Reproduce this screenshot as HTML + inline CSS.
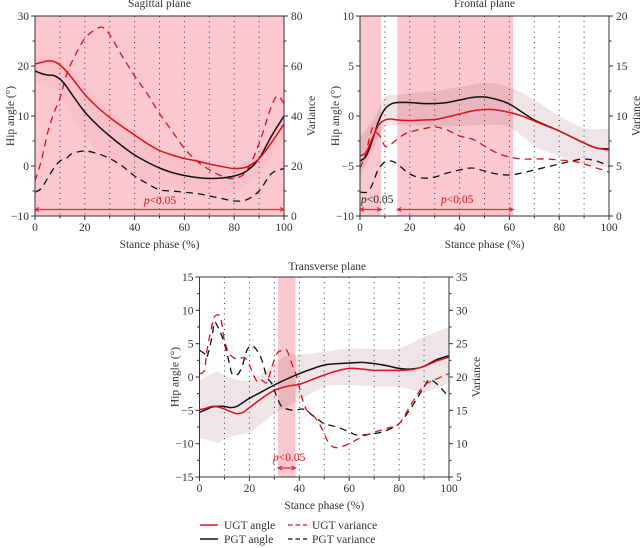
<!DOCTYPE html>
<html><head><meta charset="utf-8"><title>Hip angle and variance</title>
<style>
html,body{margin:0;padding:0;background:#fff}
svg{display:block}
text{font-family:"Liberation Serif",serif;font-size:11.5px;fill:#333}
</style></head>
<body>
<svg id="chart" width="641" height="548" viewBox="0 0 641 548" xmlns="http://www.w3.org/2000/svg">
  <g>
    <line x1="200" x2="218" y1="525" y2="525" stroke="#e0101e" stroke-width="1.4"/>
    <text x="224" y="529">UGT angle</text>
    <line x1="200" x2="218" y1="539" y2="539" stroke="#111" stroke-width="1.4"/>
    <text x="224" y="543">PGT angle</text>
    <line x1="288" x2="307" y1="525" y2="525" stroke="#e0101e" stroke-width="1.2" stroke-dasharray="4.5 3"/>
    <text x="312" y="529">UGT variance</text>
    <line x1="288" x2="307" y1="539" y2="539" stroke="#111" stroke-width="1.2" stroke-dasharray="4.5 3"/>
    <text x="312" y="543">PGT variance</text>
  </g>
</svg>
<script>
// ---- shared ----
const phaseTicks = [0,20,40,60,80,100];
const anglePhase = [0,2.5,5,7.5,10,12.5,15,20,25,30,35,40,45,50,55,60,65,70,75,80,85,90,95,100];

// ---- sagittal ----
const sagTicksLeft = [-10,0,10,20,30];
const sagTicksRight = [0,20,40,60,80];
const sagUgtAngle = [20.4,20.7,21,20.9,20.2,19,17.5,14.3,11.8,9.7,7.9,6.2,4.5,3.1,2.2,1.5,1,0.4,-0.1,-0.5,-0.2,1.5,4.7,8.4];
const sagPgtAngle = [19,18.5,18.2,18.1,17.4,16,14.2,10.8,8.2,6,4,2.2,0.8,-0.4,-1.3,-1.9,-2.3,-2.5,-2.4,-2,-1,1.5,6,10];
const sagBandPhase = [0,5,10,15,20,30,40,50,60,70,80,90,100];
const sagBandUpper = [21.5,22.2,21,19,16,11,7,3.5,1.5,0.5,0,3,11];
const sagBandLower = [16.5,16,14.5,10,6,1,-2,-3.8,-4.8,-5.3,-5,-1.5,6];
const sagUgtVarPhase = [0,2.5,5,7.5,10,12.5,15,20,25,27.5,30,35,40,45,50,55,60,65,70,75,80,85,90,95,97.5,100];
const sagUgtVar = [14,22,33,41,47,56,62,71,75,75.3,72.5,64,56,49,41,34,27,22,18.5,16,15,18,29,44,48,45];
const sagPgtVarPhase = [0,2.5,5,7.5,10,12.5,15,20,25,30,35,40,45,50,55,60,65,70,75,80,85,90,95,100];
const sagPgtVar = [9.5,11,15,19,22,23,25,26,25,23,20,16,13,10.5,10,9.5,9,8,7,6,6.5,10,17,19];
const sagSigStart = [0];
const sagSigEnd = [100];

// ---- frontal ----
const froTicksLeft = [-10,-5,0,5,10];
const froTicksRight = [0,5,10,15,20];
const froUgtAngle = [-4,-3.6,-2.2,-0.9,-0.4,-0.3,-0.4,-0.45,-0.4,-0.35,-0.1,0.2,0.5,0.65,0.6,0.35,0,-0.5,-1,-1.5,-2.1,-2.7,-3.2,-3.4];
const froPgtAngle = [-4.5,-4,-2.4,-0.5,0.7,1.2,1.35,1.35,1.25,1.25,1.35,1.6,1.85,1.9,1.65,1.2,0.4,-0.4,-0.95,-1.5,-2.1,-2.7,-3.2,-3.3];
const froBandPhase = [0,5,10,15,20,30,40,50,60,70,80,90,100];
const froBandUpper = [-2,-0.5,1.9,2.1,2.3,2.5,2.9,3.3,2.9,1.6,0,-1.2,-1.3];
const froBandLower = [-6,-3.5,-1.1,-0.9,-0.9,-1,-1,-0.9,-1.1,-3,-4,-4.8,-5.2];
const froUgtVarPhase = [0,2,4,5,6,8,10,12,15,18,20,25,30,35,40,45,50,55,60,65,70,75,80,85,90,95,100];
const froUgtVar = [4.8,6,8,8.8,8.5,8,7,7.1,7.7,8.2,8.4,8.7,8.9,8.6,8,7.7,7,6.3,5.9,5.7,5.7,5.7,5.6,5.5,5.2,4.8,4.4];
const froPgtVarPhase = [0,3,5,7,8,10,12.5,15,20,25,30,35,40,45,50,55,60,65,70,75,80,85,90,95,100];
const froPgtVar = [2.4,2.4,3.2,4.5,4.9,5.4,5.5,5.2,4.2,3.8,3.9,4.3,4.6,4.8,4.5,4.2,4.1,4.3,4.6,4.9,5.2,5.5,5.7,5.5,5];
const froSigStart = [0,15];
const froSigEnd = [8.5,61.5];

// ---- transverse ----
const traTicksLeft = [-15,-10,-5,0,5,10,15];
const traTicksRight = [5,10,15,20,25,30,35];
const traAnglePhase = [0,2.5,5,7.5,10,12.5,15,17.5,20,25,30,35,40,45,50,55,60,65,70,75,80,85,90,95,100];
const traUgtAngle = [-4.9,-4.7,-4.4,-4.5,-4.8,-5.2,-5.5,-5.3,-4.6,-3.2,-2,-1.4,-1.1,-0.4,0.3,0.9,1.3,1.2,1,1,1,1.1,1.6,2.4,3];
const traPgtAngle = [-5.3,-4.9,-4.5,-4.4,-4.4,-4.6,-4.4,-3.8,-3.2,-2.2,-1.2,-0.3,0.5,1.2,1.8,2,2.1,2.2,2,1.7,1.3,1.2,1.6,2.6,3.2];
const traBandPhase = [0,5,7.5,10,15,20,25,30,35,40,50,60,70,80,90,100];
const traBandUpper = [-0.5,0.5,0.8,0.3,-0.4,-0.5,0.5,2,3.2,3.3,3.8,4.3,4.2,4.3,6,7.5];
const traBandLower = [-9.2,-9.6,-9.9,-9.3,-8.7,-8.3,-7,-5.5,-4.5,-3.5,-1.5,-1.2,-1.4,-1.5,-2.2,-0.9];
const traUgtVarPhase = [0,2,3,5.5,7,8.5,10,12,15,18,20,22,23.5,25,27,29,31,33,35,37,39,41,43,45,48,50,52,55,60,65,70,75,80,85,90,95,100];
const traUgtVar = [20.5,21,24,28.5,29.3,28.8,25.5,23.5,22.7,22.9,21.8,20,19.2,19.5,19.2,21.5,23.5,24,24,22,20,17,15,14.5,13,11.5,10,9.4,10,11,11.7,12.3,13,16,18.7,19.7,20.5];
const traPgtVarPhase = [0,2,3,5,6,8,10,12,13,15,17,19,21,23,25,27,29,31,33,35,38,41,43,45,48,50,55,60,63,70,75,80,85,90,92,95,100];
const traPgtVar = [24,23.5,23,26,28.2,27,25,22,20.5,20.3,21.5,24,24.7,24,22.5,20,19,17,15.5,15.2,15,15.2,15,14.3,13.5,13,12.5,11.8,11.3,11.5,12,13,15.5,18.5,19.6,19,17];
const traSigStart = [31.5];
const traSigEnd = [38.5];

const svg = document.getElementById('chart');
const NS = 'http://www.w3.org/2000/svg';
const RED = '#e0101e', BLACK = '#111', AXIS = '#333';

function mk(tag, parent, props, txt) {
  const e = document.createElementNS(NS, tag);
  for (const k in props) e.setAttribute(k, props[k]);
  if (txt !== undefined) e.textContent = txt;
  parent.appendChild(e);
  return e;
}
function smooth(pts) {
  let d = 'M' + pts[0][0].toFixed(2) + ' ' + pts[0][1].toFixed(2);
  for (let i = 0; i < pts.length - 1; i++) {
    const p0 = pts[Math.max(i - 1, 0)], p1 = pts[i], p2 = pts[i + 1], p3 = pts[Math.min(i + 2, pts.length - 1)];
    const c1x = p1[0] + (p2[0] - p0[0]) / 6, c1y = p1[1] + (p2[1] - p0[1]) / 6;
    const c2x = p2[0] - (p3[0] - p1[0]) / 6, c2y = p2[1] - (p3[1] - p1[1]) / 6;
    d += 'C' + c1x.toFixed(2) + ' ' + c1y.toFixed(2) + ' ' + c2x.toFixed(2) + ' ' + c2y.toFixed(2) + ' ' + p2[0].toFixed(2) + ' ' + p2[1].toFixed(2);
  }
  return d;
}
function label(num) { return num < 0 ? '\u2212' + Math.abs(num) : String(num); }

function drawPanel(cfg) {
  const g = mk('g', svg, {});
  
  
  const L = cfg.box[0], T = cfg.box[1], R = cfg.box[2], B = cfg.box[3];
  const leftMin = cfg.left[0], leftMax = cfg.left[cfg.left.length - 1];
  const rightMin = cfg.right[0], rightMax = cfg.right[cfg.right.length - 1];
  const xS = v => L + (v / 100) * (R - L);
  const yL = v => B - (v - leftMin) / (leftMax - leftMin) * (B - T);
  const yR = v => B - (v - rightMin) / (rightMax - rightMin) * (B - T);
  const cx = (L + R) / 2, cy = (T + B) / 2;

  // significance shading
  cfg.sigStart.forEach((s, i) => {
    const r = mk('rect', g, {x: xS(s), y: T, width: xS(cfg.sigEnd[i]) - xS(s), height: B - T, fill: '#fac8ce'});
    
    
  });

  // SD band
  const up = cfg.bandPhase.map((p, i) => [xS(p), yL(cfg.bandUpper[i])]);
  const lo = cfg.bandPhase.map((p, i) => [xS(p), yL(cfg.bandLower[i])]).reverse();
  const bandPath = smooth(up) + 'L' + lo[0][0] + ' ' + lo[0][1] + smooth(lo).replace(/^M[^C]*/, '') + 'Z';
  const band = mk('path', g, {d: bandPath, fill: cfg.bandFill, stroke: 'none'});
  
  

  // dotted grid
  for (let p = 10; p < 100; p += 10) {
    const l = mk('line', g, {x1: xS(p), x2: xS(p), y1: T, y2: B, stroke: '#333', 'stroke-width': 1, 'stroke-dasharray': '1 4.2'});
    
    
  }

  // series
  const series = [
    [cfg.pgtVarPhase, cfg.pgtVar, yR, BLACK, true, 'pgt-variance'],
    [cfg.ugtVarPhase, cfg.ugtVar, yR, RED, true, 'ugt-variance'],
    [cfg.anglePhase, cfg.pgtAngle, yL, BLACK, false, 'pgt-angle'],
    [cfg.anglePhase, cfg.ugtAngle, yL, RED, false, 'ugt-angle']
  ];
  series.forEach(s => {
    const pts = s[0].map((p, i) => [xS(p), s[2](s[1][i])]);
    const attrs = {d: smooth(pts), fill: 'none', stroke: s[3], 'stroke-width': s[4] ? 1.3 : 1.5};
    if (s[4]) attrs['stroke-dasharray'] = '7 5';
    const path = mk('path', g, attrs);
    
    
  });

  // frame
  const frame = mk('rect', g, {x: L, y: T, width: R - L, height: B - T, fill: 'none', stroke: AXIS, 'stroke-width': 1});
  
  

  // x ticks
  phaseTicks.forEach((v, i) => {
    const t = mk('line', g, {x1: xS(v), x2: xS(v), y1: B, y2: B + 4, stroke: AXIS});
    
    
    const tl = mk('text', g, {x: xS(v), y: B + 15, 'text-anchor': 'middle'}, label(v));
    
    
    if (i < phaseTicks.length - 1) {
      const m = mk('line', g, {x1: xS(v + 10), x2: xS(v + 10), y1: B, y2: B + 2.5, stroke: AXIS});
      
      
    }
  });

  // left ticks
  cfg.left.forEach((v, i) => {
    const t = mk('line', g, {x1: L - 4, x2: L, y1: yL(v), y2: yL(v), stroke: AXIS});
    
    
    const tl = mk('text', g, {x: L - 6, y: yL(v) + 4, 'text-anchor': 'end'}, label(v));
    
    
    if (i < cfg.left.length - 1) {
      const mv = (v + cfg.left[i + 1]) / 2;
      const m = mk('line', g, {x1: L - 2.5, x2: L, y1: yL(mv), y2: yL(mv), stroke: AXIS});
      
      
    }
  });

  // right ticks
  cfg.right.forEach((v, i) => {
    const t = mk('line', g, {x1: R, x2: R + 4, y1: yR(v), y2: yR(v), stroke: AXIS});
    
    
    const tl = mk('text', g, {x: R + 7, y: yR(v) + 4}, label(v));
    
    
    if (i < cfg.right.length - 1) {
      const mv = (v + cfg.right[i + 1]) / 2;
      const m = mk('line', g, {x1: R, x2: R + 2.5, y1: yR(mv), y2: yR(mv), stroke: AXIS});
      
      
    }
  });

  // titles
  const title = mk('text', g, {x: cx + cfg.titleDx, y: T - cfg.titleGap, 'text-anchor': 'middle'}, cfg.title);
  
  
  const xt = mk('text', g, {x: cx, y: B + 32, 'text-anchor': 'middle'}, 'Stance phase (%)');
  
  
  const yt = mk('text', g, {x: 0, y: 0, 'text-anchor': 'middle', transform: 'translate(' + (L - 21) + ' ' + cy + ') rotate(-90)'}, 'Hip angle (\u00b0)');
  
  
  const vt = mk('text', g, {x: 0, y: 0, 'text-anchor': 'middle', transform: 'translate(' + (R + 31) + ' ' + cy + ') rotate(-90)'}, 'Variance');
  
  

  // significance arrows + labels
  cfg.sigStart.forEach((s, i) => {
    const x1 = xS(s), x2 = xS(cfg.sigEnd[i]), ay = cfg.arrowY;
    const ar = mk('path', g, {d: 'M' + x1 + ' ' + ay + 'L' + x2 + ' ' + ay + 'M' + (x1 + 4) + ' ' + (ay - 2) + 'L' + x1 + ' ' + ay + 'L' + (x1 + 4) + ' ' + (ay + 2) + 'M' + (x2 - 4) + ' ' + (ay - 2) + 'L' + x2 + ' ' + ay + 'L' + (x2 - 4) + ' ' + (ay + 2), stroke: '#d8303c', 'stroke-width': 1.2, fill: 'none'});
    
    
    const colour = cfg.sigLabelColour[i];
    const tx = mk('text', g, {x: cfg.sigLabelX[i], y: cfg.sigLabelY, 'text-anchor': cfg.sigLabelAnchor, style: 'fill:' + colour});
    
    
    mk('tspan', tx, {'font-style': 'italic'}, 'p');
    mk('tspan', tx, {}, '<0.05');
  });
}

drawPanel({name:'sagittal', title:'Sagittal plane', titleGap:9, titleDx:0, box:[35,16,284,216], left:sagTicksLeft, right:sagTicksRight,
  anglePhase:anglePhase, ugtAngle:sagUgtAngle, pgtAngle:sagPgtAngle,
  ugtVarPhase:sagUgtVarPhase, ugtVar:sagUgtVar, pgtVarPhase:sagPgtVarPhase, pgtVar:sagPgtVar,
  bandPhase:sagBandPhase, bandUpper:sagBandUpper, bandLower:sagBandLower, bandFill:'rgba(225,120,125,0.08)',
  sigStart:sagSigStart, sigEnd:sagSigEnd, arrowY:209.5, sigLabelX:[160], sigLabelY:204, sigLabelAnchor:'middle', sigLabelColour:[RED]});

drawPanel({name:'frontal', title:'Frontal plane', titleGap:9, titleDx:0, box:[360,16,609,216], left:froTicksLeft, right:froTicksRight,
  anglePhase:anglePhase, ugtAngle:froUgtAngle, pgtAngle:froPgtAngle,
  ugtVarPhase:froUgtVarPhase, ugtVar:froUgtVar, pgtVarPhase:froPgtVarPhase, pgtVar:froPgtVar,
  bandPhase:froBandPhase, bandUpper:froBandUpper, bandLower:froBandLower, bandFill:'rgba(140,70,80,0.14)',
  sigStart:froSigStart, sigEnd:froSigEnd, arrowY:209.5, sigLabelX:[361,441], sigLabelY:203, sigLabelAnchor:'start', sigLabelColour:['#222',RED]});

drawPanel({name:'transverse', title:'Transverse plane', titleGap:7, titleDx:3, box:[199.5,277,449,477], left:traTicksLeft, right:traTicksRight,
  anglePhase:traAnglePhase, ugtAngle:traUgtAngle, pgtAngle:traPgtAngle,
  ugtVarPhase:traUgtVarPhase, ugtVar:traUgtVar, pgtVarPhase:traPgtVarPhase, pgtVar:traPgtVar,
  bandPhase:traBandPhase, bandUpper:traBandUpper, bandLower:traBandLower, bandFill:'rgba(140,70,80,0.14)',
  sigStart:traSigStart, sigEnd:traSigEnd, arrowY:468, sigLabelX:[273], sigLabelY:461, sigLabelAnchor:'start', sigLabelColour:[RED]});
</script>
</body></html>
